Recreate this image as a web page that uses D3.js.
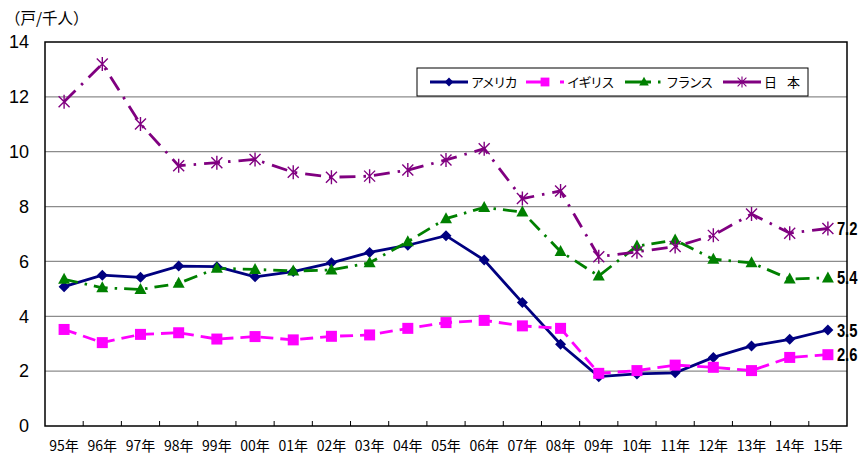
<!DOCTYPE html>
<html>
<head>
<meta charset="utf-8">
<script src="https://cdn.jsdelivr.net/npm/d3@7/dist/d3.min.js"></script>
<style>
  html, body { margin: 0; padding: 0; background: #fff; }
  svg { display: block; }
  text { font-family: "Noto Sans CJK JP", "Noto Sans", sans-serif; }
</style>
</head>
<body>
<svg id="chart" width="868" height="459"></svg>
<script>
// Housing starts per 1,000 people, 1995–2015
const years = ["95年","96年","97年","98年","99年","00年","01年","02年","03年","04年","05年","06年","07年","08年","09年","10年","11年","12年","13年","14年","15年"];
const usa    = [5.08, 5.5, 5.42, 5.83, 5.81, 5.44, 5.63, 5.95, 6.33, 6.59, 6.94, 6.05, 4.5, 2.98, 1.8, 1.9, 1.94, 2.5, 2.92, 3.16, 3.5];
const uk     = [3.52, 3.04, 3.34, 3.4, 3.17, 3.26, 3.14, 3.27, 3.32, 3.56, 3.77, 3.85, 3.65, 3.56, 1.92, 2.02, 2.22, 2.14, 2.02, 2.5, 2.6];
const france = [5.35, 5.04, 4.98, 5.2, 5.75, 5.71, 5.65, 5.69, 5.95, 6.72, 7.56, 7.97, 7.8, 6.36, 5.47, 6.56, 6.78, 6.08, 5.95, 5.36, 5.4];
const japan  = [11.82, 13.2, 11.01, 9.49, 9.6, 9.72, 9.25, 9.07, 9.11, 9.33, 9.7, 10.11, 8.29, 8.57, 6.17, 6.35, 6.54, 6.95, 7.73, 7.03, 7.2];
const seriesNames = ["アメリカ", "イギリス", "フランス", "日　本"];
const yTicks = [0, 2, 4, 6, 8, 10, 12, 14];
const unitLabel = "（戸/千人）";

const series = [
  { name: seriesNames[0], values: usa,    color: "#000080", dash: null,         legendDash: null,             marker: "diamond"  },
  { name: seriesNames[1], values: uk,     color: "#FF00FF", dash: "13,7",       legendDash: "23,11,4,20",     marker: "square"   },
  { name: seriesNames[2], values: france, color: "#008000", dash: "14,7,2.5,7", legendDash: "26,7,2.5,20",    marker: "triangle" },
  { name: seriesNames[3], values: japan,  color: "#800080", dash: "16,8,2.5,8", legendDash: null,             marker: "asterisk" }
];

const svg = d3.select("#chart");
const plotLeft = 45, plotRight = 847, plotTop = 42, plotBottom = 426;

const x = d3.scaleBand().domain(years).range([plotLeft, plotRight]).paddingInner(0).paddingOuter(0);
const y = d3.scaleLinear().domain([0, 14]).range([plotBottom, plotTop]);
const cx = d => x(d) + x.bandwidth() / 2;

// gridlines
svg.append("g")
  .selectAll("line")
  .data(yTicks.filter(t => t > 0 && t < 14))
  .join("line")
  .attr("x1", plotLeft).attr("x2", plotRight)
  .attr("y1", d => y(d)).attr("y2", d => y(d))
  .attr("stroke", "#8c8c8c").attr("stroke-width", 1.2);

// y axis labels
const yAxis = d3.axisLeft(y).tickValues(yTicks).tickSize(0).tickPadding(16).tickFormat(d3.format("d"));
const gy = svg.append("g").attr("transform", `translate(${plotLeft},0)`).call(yAxis);
gy.select(".domain").remove();
gy.selectAll("text").attr("font-size", 18).attr("fill", "#000")
  .style("font-family", "'Liberation Sans', Arial, sans-serif");

// x axis: labels centred on categories, ticks between them pointing inward
const gx = svg.append("g").attr("transform", `translate(0,${plotBottom})`)
  .call(d3.axisBottom(x).tickSize(0).tickPadding(15));
gx.select(".domain").remove();
gx.selectAll("text").attr("font-size", 14).attr("fill", "#000")
  .style("font-family", "'Noto Sans CJK JP', sans-serif");
svg.append("g").selectAll("line")
  .data(years.slice(1))
  .join("line")
  .attr("x1", d => x(d)).attr("x2", d => x(d))
  .attr("y1", plotBottom).attr("y2", plotBottom - 5)
  .attr("stroke", "#000").attr("stroke-width", 1);

// plot frame
svg.append("rect")
  .attr("x", plotLeft).attr("y", plotTop)
  .attr("width", plotRight - plotLeft).attr("height", plotBottom - plotTop)
  .attr("fill", "none").attr("stroke", "#000").attr("stroke-width", 1.5);

// unit label
svg.append("text").attr("x", 5).attr("y", 24).attr("font-size", 15.5).attr("fill", "#000").text(unitLabel);

// marker shapes
function drawMarker(g, type, color) {
  if (type === "diamond") {
    g.append("path").attr("d", "M0,-5.5L5.5,0L0,5.5L-5.5,0Z").attr("fill", color);
  } else if (type === "square") {
    g.append("rect").attr("x", -5.5).attr("y", -5.5).attr("width", 11).attr("height", 11).attr("fill", color);
  } else if (type === "triangle") {
    g.append("path").attr("d", "M0,-6.5L6,4.5L-6,4.5Z").attr("fill", color);
  } else if (type === "asterisk") {
    g.append("path").attr("d", "M-5.5,-5.5L5.5,5.5M5.5,-5.5L-5.5,5.5M0,-7L0,7")
      .attr("stroke", color).attr("stroke-width", 1.4).attr("fill", "none");
  }
}

const line = d3.line().x((d, i) => cx(years[i])).y(d => y(d));

// lines
series.forEach(s => {
  svg.append("path")
    .datum(s.values)
    .attr("d", line)
    .attr("fill", "none")
    .attr("stroke", s.color)
    .attr("stroke-width", 2.8)
    .attr("stroke-dasharray", s.dash);
});

// markers
series.forEach(s => {
  svg.append("g").selectAll("g")
    .data(s.values)
    .join("g")
    .attr("transform", (d, i) => `translate(${cx(years[i])},${y(d)})`)
    .each(function () { drawMarker(d3.select(this), s.marker, s.color); });
});

// end value labels (condensed bold)
const last = years.length - 1;
svg.append("g").selectAll("text")
  .data(series)
  .join("text")
  .attr("transform", s => `translate(${cx(years[last]) + 9},${y(s.values[last]) + 6.5}) scale(0.82,1)`)
  .attr("font-size", 18)
  .attr("font-weight", "bold")
  .attr("fill", "#000")
  .style("font-family", "'Liberation Sans', Arial, sans-serif")
  .text(s => d3.format(".1f")(s.values[last]));

// legend
const lg = svg.append("g");
lg.append("rect").attr("x", 417).attr("y", 68).attr("width", 391).attr("height", 28)
  .attr("fill", "#fff").attr("stroke", "#000").attr("stroke-width", 1);
const legendX = [430, 526, 625, 723];
series.forEach((s, i) => {
  const g = lg.append("g").attr("transform", `translate(${legendX[i]},82)`);
  g.append("line").attr("x1", 0).attr("x2", 38).attr("y1", 0).attr("y2", 0)
    .attr("stroke", s.color).attr("stroke-width", 2.8).attr("stroke-dasharray", s.legendDash);
  drawMarker(g.append("g").attr("transform", "translate(19,0) scale(0.8)"), s.marker, s.color);
  g.append("text").attr("x", 41).attr("y", 5).attr("font-size", 13)
    .attr("letter-spacing", -1.5).attr("fill", "#000").text(s.name);
});
</script>
</body>
</html>
